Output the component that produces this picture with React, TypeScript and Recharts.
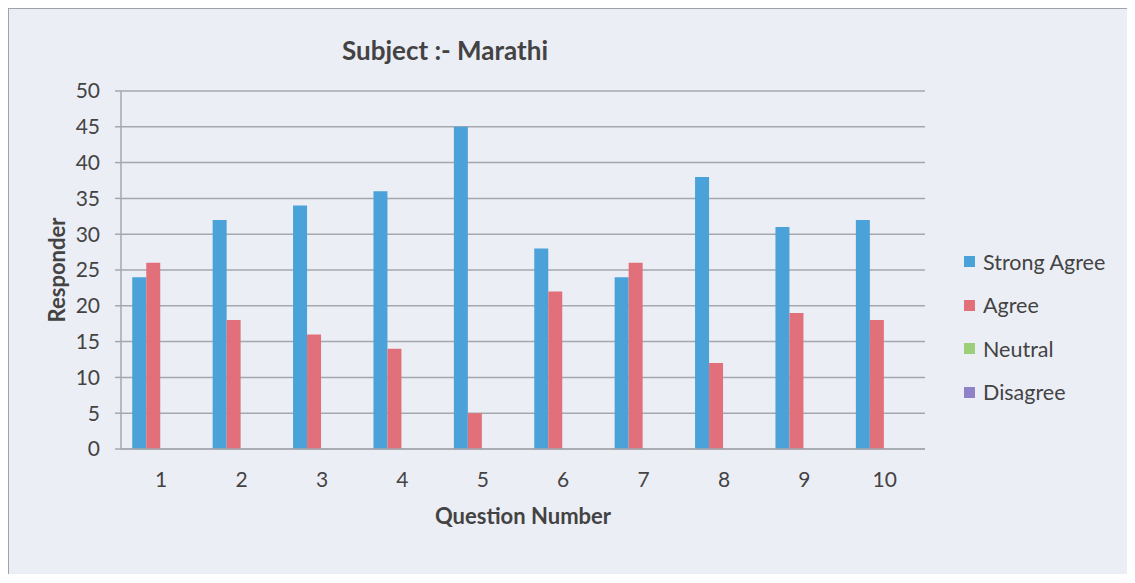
import { Bar, BarChart, CartesianGrid, XAxis, YAxis } from "recharts";

const QUESTIONS = ["1", "2", "3", "4", "5", "6", "7", "8", "9", "10"];
const STRONG_AGREE = [24, 32, 34, 36, 45, 28, 24, 38, 31, 32];
const AGREE = [26, 18, 16, 14, 5, 22, 26, 12, 19, 18];
const NEUTRAL = [0, 0, 0, 0, 0, 0, 0, 0, 0, 0];
const DISAGREE = [0, 0, 0, 0, 0, 0, 0, 0, 0, 0];
const Y_TICKS = [0, 5, 10, 15, 20, 25, 30, 35, 40, 45, 50];

const SERIES = [
  { key: "strongAgree", label: "Strong Agree", color: "#4ba2d8", values: STRONG_AGREE },
  { key: "agree", label: "Agree", color: "#e2707a", values: AGREE },
  { key: "neutral", label: "Neutral", color: "#9dcf7a", values: NEUTRAL },
  { key: "disagree", label: "Disagree", color: "#8f82c8", values: DISAGREE },
];

const data = QUESTIONS.map((q, i) => {
  const row: Record<string, string | number> = { q };
  SERIES.forEach((s) => (row[s.key] = s.values[i]));
  return row;
});

const FONT = "Lato, 'Open Sans', sans-serif";
const TEXT = "#434343";
const GRID = "#a4a8ae";
const AXIS_TICK = { fontSize: 21, fill: TEXT, fontFamily: FONT } as const;

// legend drawn as plain html next to the plot
function LegendList() {
  return (
    <div
      style={{
        position: "absolute",
        left: 955,
        top: 231,
        fontFamily: FONT,
        fontSize: 21.5,
        color: TEXT,
      }}
    >
      {SERIES.map((s) => (
        <div key={s.key} style={{ height: 43.5, display: "flex", alignItems: "center" }}>
          <span style={{ width: 11, height: 11, background: s.color, marginRight: 8, display: "inline-block" }} />
          <span>{s.label}</span>
        </div>
      ))}
    </div>
  );
}

export default function App() {
  return (
    <div
      style={{
        position: "relative",
        width: 1122,
        height: 565,
        border: "1px solid #9ea3ab",
        borderBottom: "none",
        background: "#eceef6",
      }}
    >
      <div
        style={{
          position: "absolute",
          left: 286,
          top: 26,
          width: 300,
          textAlign: "center",
          fontFamily: FONT,
          fontWeight: 700,
          fontSize: 26,
          lineHeight: "30px",
          color: TEXT,
          zIndex: 1,
        }}
      >
        Subject :- Marathi
      </div>
      <BarChart
        width={1122}
        height={565}
        data={data}
        margin={{ top: 82, right: 206, left: 0, bottom: 40 }}
        barCategoryGap="14%"
        barGap={0}
      >
        <CartesianGrid vertical={false} stroke={GRID} strokeWidth={1.5} />
        <XAxis
          dataKey="q"
          tick={AXIS_TICK}
          tickLine={false}
          tickSize={0}
          tickMargin={23}
          height={85}
          axisLine={{ stroke: GRID, strokeWidth: 1.5 }}
          label={{
            value: "Question Number",
            position: "insideBottom",
            offset: 10,
            style: { fontFamily: FONT, fontWeight: 700, fontSize: 22, fill: TEXT },
          }}
        />
        <YAxis
          domain={[0, 50]}
          ticks={Y_TICKS}
          interval={0}
          tick={AXIS_TICK}
          width={112}
          tickSize={6}
          tickMargin={15}
          tickLine={{ stroke: GRID, strokeWidth: 1.5 }}
          axisLine={{ stroke: GRID, strokeWidth: 1.5 }}
          label={{
            value: "Responder",
            angle: -90,
            position: "insideLeft",
            offset: 48,
            style: { fontFamily: FONT, fontWeight: 700, fontSize: 22, fill: TEXT, textAnchor: "middle" },
          }}
        />
        {SERIES.map((s) => (
          <Bar key={s.key} dataKey={s.key} name={s.label} fill={s.color} isAnimationActive={false} />
        ))}
      </BarChart>
      <LegendList />
    </div>
  );
}
